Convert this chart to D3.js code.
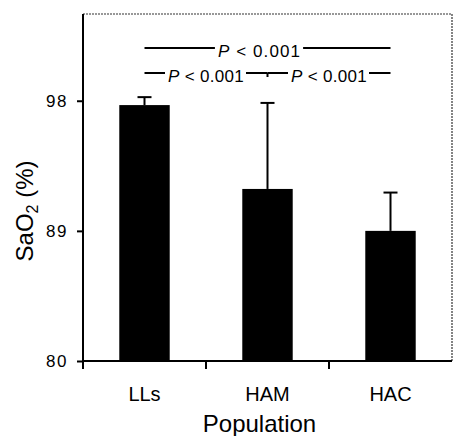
<!DOCTYPE html>
<html lang="en">
<head>
<meta charset="utf-8">
<script src="https://d3js.org/d3.v7.min.js"></script>
<style>
  body { margin: 0; background: #fff; }
  svg text { font-family: "Liberation Sans", Arial, Helvetica, sans-serif; fill: #000; }
</style>
</head>
<body>
<div id="chart"></div>
<script>
  // data
  var populations = ["LLs", "HAM", "HAC"]
  var sao2_mean = [97.7, 91.9, 89.0]
  var sao2_err = [0.55, 5.95, 2.65]
  var y_ticks = [80, 89, 98]
  // significance brackets
  var sig_from = ["LLs", "LLs", "HAM"]
  var sig_to = ["HAC", "HAM", "HAC"]
  var sig_label = ["P < 0.001", "P < 0.001", "P < 0.001"]

  var W = 453, H = 436
  var pLeft = 83, pRight = 452, pTop = 14, pBottom = 361

  var svg = d3.select('#chart').append('svg')
      .attr('width', W).attr('height', H)

  var x = d3.scaleBand().domain(populations).range([pLeft, pRight]).padding(0)
  var y = d3.scaleLinear().domain([80, 104]).range([pBottom, pTop])
  var barW = x.bandwidth() * 0.41

  // dotted frame top/right
  svg.append('path')
      .attr('d', 'M' + pLeft + ',' + pTop + 'H' + pRight + 'V' + pBottom)
      .attr('fill', 'none').attr('stroke', '#333').attr('stroke-width', 1.2)
      .attr('stroke-dasharray', '2,1')

  // bars
  var bars = populations.map(function(p, i) { return {p: p, m: sao2_mean[i], e: sao2_err[i]} })
  svg.selectAll('rect.bar').data(bars).enter().append('rect')
      .attr('class', 'bar')
      .attr('x', function(d) { return x(d.p) + x.bandwidth() / 2 - barW / 2 })
      .attr('y', function(d) { return y(d.m) })
      .attr('width', barW)
      .attr('height', function(d) { return y(80) - y(d.m) })
      .attr('fill', '#000')

  // error bars (upper only)
  var eg = svg.selectAll('g.err').data(bars).enter().append('g').attr('class', 'err')
  eg.append('line')
      .attr('x1', function(d) { return x(d.p) + x.bandwidth() / 2 })
      .attr('x2', function(d) { return x(d.p) + x.bandwidth() / 2 })
      .attr('y1', function(d) { return y(d.m) })
      .attr('y2', function(d) { return y(d.m + d.e) })
      .attr('stroke', '#000').attr('stroke-width', 2)
  eg.append('line')
      .attr('x1', function(d) { return x(d.p) + x.bandwidth() / 2 - 7 })
      .attr('x2', function(d) { return x(d.p) + x.bandwidth() / 2 + 7 })
      .attr('y1', function(d) { return y(d.m + d.e) })
      .attr('y2', function(d) { return y(d.m + d.e) })
      .attr('stroke', '#000').attr('stroke-width', 2)

  // y axis
  var yAxis = d3.axisLeft(y).tickValues(y_ticks).tickSize(6).tickPadding(9)
  var gy = svg.append('g').attr('transform', 'translate(' + pLeft + ',0)').call(yAxis)
  gy.select('.domain').attr('d', 'M0,' + pTop + 'V' + (pBottom + 8)).attr('stroke-width', 2)
  gy.selectAll('.tick line').attr('stroke-width', 2)
  gy.selectAll('.tick text')
      .style('font-size', '17px').attr('letter-spacing', '1.5px')
      .style('font-family', '"Liberation Sans", Arial, sans-serif')

  // x axis: ticks at band boundaries
  var gx = svg.append('g').attr('transform', 'translate(0,' + pBottom + ')')
  gx.append('line').attr('x1', pLeft).attr('x2', pRight).attr('stroke', '#000').attr('stroke-width', 2)
  gx.selectAll('line.bt').data(populations.slice(1)).enter().append('line')
      .attr('class', 'bt')
      .attr('x1', function(d) { return x(d) }).attr('x2', function(d) { return x(d) })
      .attr('y1', 0).attr('y2', 8)
      .attr('stroke', '#000').attr('stroke-width', 2)
  gx.selectAll('text').data(populations).enter().append('text')
      .attr('x', function(d) { return x(d) + x.bandwidth() / 2 })
      .attr('y', 40)
      .attr('text-anchor', 'middle')
      .style('font-size', '20px')
      .text(function(d) { return d })

  // axis titles
  svg.append('text')
      .attr('x', (pLeft + pRight) / 2 - 8).attr('y', 432)
      .attr('text-anchor', 'middle').style('font-size', '24px')
      .text('Population')

  var yt = svg.append('text')
      .attr('transform', 'translate(33,211) rotate(-90)')
      .attr('text-anchor', 'middle').style('font-size', '24px')
  yt.append('tspan').text('SaO')
  yt.append('tspan').attr('dy', 5).style('font-size', '16px').text('2')
  yt.append('tspan').attr('dy', -5).text(' (%)')

  // significance brackets
  var rowY = [48, 73, 73]
  sig_from.forEach(function(f, i) {
    var x1 = x(f) + x.bandwidth() / 2
    var x2 = x(sig_to[i]) + x.bandwidth() / 2
    var cx = (x1 + x2) / 2 - (i == 0 ? 8 : 0)
    var ly = rowY[i]
    var t = svg.append('text')
        .attr('x', cx).attr('y', ly + 9)
        .attr('text-anchor', 'middle')
        .style('font-size', '17px')
        .attr('letter-spacing', i == 0 ? '1.1px' : '0.3px')
    t.append('tspan').style('font-style', 'italic').text(sig_label[i].slice(0, 1))
    t.append('tspan').text(sig_label[i].slice(1))
    var tw = t.node().getComputedTextLength()
    svg.append('line').attr('x1', x1).attr('x2', cx - tw / 2 - 3)
        .attr('y1', ly).attr('y2', ly).attr('stroke', '#000').attr('stroke-width', 2)
    svg.append('line').attr('x1', cx + tw / 2 + 2).attr('x2', x2)
        .attr('y1', ly).attr('y2', ly).attr('stroke', '#000').attr('stroke-width', 2)
  })
  // small drop at HAM where the two lower brackets meet
  var hm = x("HAM") + x.bandwidth() / 2
  svg.append('line').attr('x1', hm).attr('x2', hm).attr('y1', 73).attr('y2', 77)
      .attr('stroke', '#000').attr('stroke-width', 2)
</script>
</body>
</html>
